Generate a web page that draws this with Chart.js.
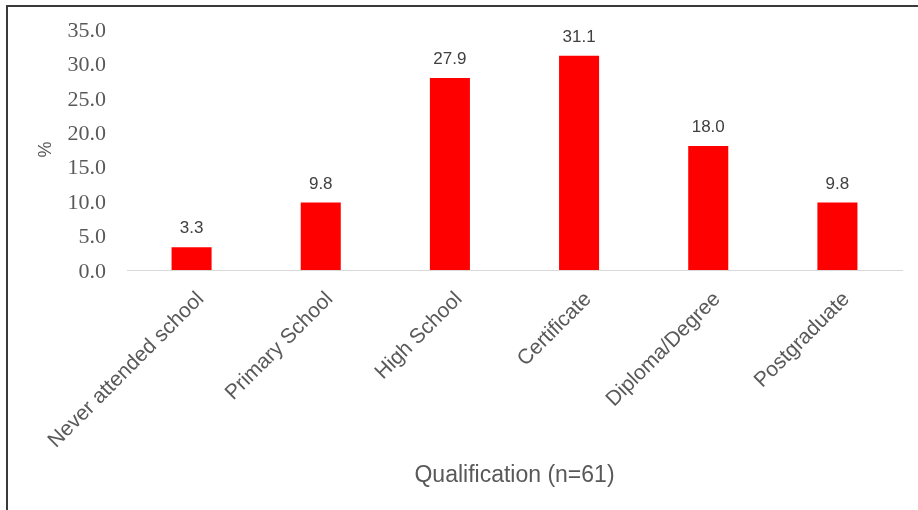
<!DOCTYPE html>
<html>
<head>
<meta charset="utf-8">
<script src="https://cdn.jsdelivr.net/npm/chart.js@4"></script>
<style>
  html, body { margin: 0; padding: 0; background: #fff; }
  #wrap { position: relative; width: 918px; height: 510px; }
  #frame { position: absolute; left: 6px; top: 5px; right: 0; bottom: 0;
           border-top: 2px solid #3a3a3a; border-left: 2px solid #3a3a3a; pointer-events: none; }
  canvas { position: absolute; left: 0; top: 0; }
</style>
</head>
<body>
<div id="wrap">
  <canvas id="c" width="918" height="510"></canvas>
  <div id="frame"></div>
</div>
<script>
// Share of respondents by highest qualification
const categories = ["Never attended school", "Primary School", "High School", "Certificate", "Diploma/Degree", "Postgraduate"];
const percentValues = [3.3, 9.8, 27.9, 31.1, 18.0, 9.8];
const yTicks = [0, 5, 10, 15, 20, 25, 30, 35];
const xTitle = "Qualification (n=61)";
const yTitle = "%";

// Value labels above each bar
const barValueLabels = {
  id: "barValueLabels",
  afterDatasetsDraw(chart) {
    const ctx = chart.ctx;
    const meta = chart.getDatasetMeta(0);
    ctx.save();
    ctx.font = "17px 'Liberation Sans', Arial, sans-serif";
    ctx.fillStyle = "#404040";
    ctx.textAlign = "center";
    ctx.textBaseline = "bottom";
    meta.data.forEach((bar, i) => {
      const v = chart.data.datasets[0].data[i];
      ctx.fillText(v.toFixed(1), bar.x, bar.y - 10);
    });
    ctx.restore();
  }
};

new Chart(document.getElementById("c"), {
  type: "bar",
  data: {
    labels: categories,
    datasets: [{
      data: percentValues,
      backgroundColor: "#ff0000",
      borderWidth: 0,
      barPercentage: 0.62,
      categoryPercentage: 0.5
    }]
  },
  options: {
    responsive: false,
    animation: false,
    events: [],
    layout: { padding: { top: 29, right: 16, left: 11, bottom: 18 } },
    plugins: {
      legend: { display: false },
      tooltip: { enabled: false }
    },
    scales: {
      x: {
        grid: { display: false, drawTicks: false },
        border: { display: true, color: "#d9d9d9", width: 1 },
        afterFit(scale) {
          scale.height = 222;
          scale.paddingLeft = 0;
          scale.paddingRight = 0;
        },
        ticks: {
          color: "#595959",
          font: { family: "'Liberation Sans', Arial, sans-serif", size: 21 },
          maxRotation: 45,
          minRotation: 45,
          autoSkip: false,
          padding: 17,
          labelOffset: 9
        },
        title: {
          display: true,
          text: xTitle,
          color: "#595959",
          font: { family: "'Liberation Sans', Arial, sans-serif", size: 23 },
          padding: { top: 4, bottom: 3 }
        }
      },
      y: {
        min: 0,
        max: 35,
        grid: { display: false, drawTicks: false },
        border: { display: false },
        afterBuildTicks(scale) {
          scale.ticks = yTicks.map(v => ({ value: v }));
        },
        afterFit(scale) {
          scale.width = 116;
          scale.paddingTop = 0;
          scale.paddingBottom = 0;
        },
        ticks: {
          color: "#595959",
          font: { family: "'Liberation Serif', 'Times New Roman', serif", size: 22 },
          padding: 21,
          labelOffset: 2,
          callback: v => Number(v).toFixed(1)
        },
        title: {
          display: true,
          text: yTitle,
          color: "#595959",
          font: { family: "'Liberation Sans', Arial, sans-serif", size: 18 },
          padding: { top: 24, bottom: 8 }
        }
      }
    }
  },
  plugins: [barValueLabels]
});
</script>
</body>
</html>
